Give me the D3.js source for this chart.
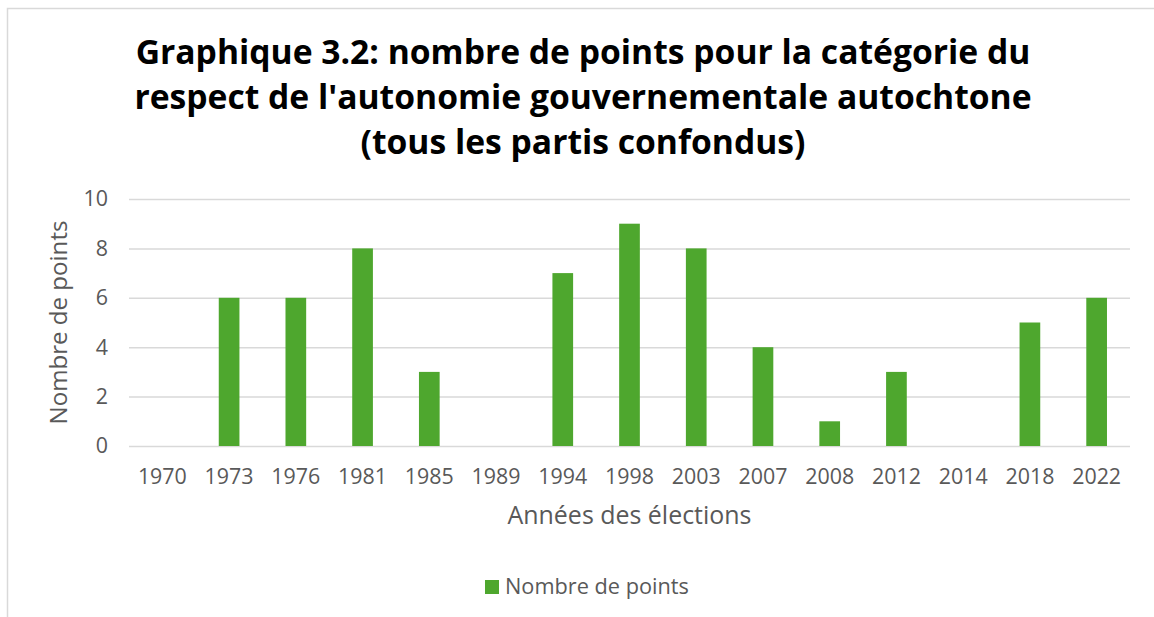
<!DOCTYPE html>
<html>
<head>
<meta charset="utf-8">
<script src="https://cdn.jsdelivr.net/npm/d3@7"></script>
<style>
  body { margin: 0; background: #fff; }
  svg { display: block; }
</style>
</head>
<body>
<div id="chart"></div>
<script>
let years = ["1970", "1973", "1976", "1981", "1985", "1989", "1994", "1998",
  "2003", "2007", "2008", "2012", "2014", "2018", "2022"];
let points = [0, 6, 6, 8, 3, 0, 7, 9, 8, 4, 1, 3, 0, 5, 6];
let yTicks = [0, 2, 4, 6, 8, 10];
let titleLines = [
  "Graphique 3.2: nombre de points pour la catégorie du",
  "respect de l'autonomie gouvernementale autochtone",
  "(tous les partis confondus)"
];

let width = 1154,
  height = 617,
  plotLeft = 129,
  plotRight = 1130,
  plotTop = 199,
  plotBottom = 446;

let green = "#4ea72e",
  textGrey = "#595959",
  font = "Open Sans, Liberation Sans, sans-serif";

let svg = d3.select("#chart")
  .append("svg")
  .attr("width", width)
  .attr("height", height);

// scale a text's font size so it spans the width seen in the picture
function fitWidth(sel, target) {
  sel.each(function () {
    let size = +this.getAttribute("font-size");
    let w = this.getComputedTextLength();
    this.setAttribute("font-size", (size * target / w).toFixed(2));
  });
}

// chart frame
svg.append("rect")
  .attr("x", 7.5)
  .attr("y", 8.5)
  .attr("width", width)
  .attr("height", height)
  .attr("fill", "none")
  .attr("stroke", "#d9d9d9")
  .attr("stroke-width", 1.5);

let titles = svg.selectAll(".title")
  .data(titleLines)
  .enter()
  .append("text")
  .attr("class", "title")
  .attr("x", 583)
  .attr("y", (d, i) => 64 + i * 45)
  .attr("text-anchor", "middle")
  .attr("font-family", font)
  .attr("font-weight", "bold")
  .attr("font-size", 30)
  .attr("fill", "#000")
  .text((d) => d);
let titleSize = 30 * 895 / titles.node().getComputedTextLength();
titles.attr("font-size", titleSize.toFixed(2));

let xScale = d3.scaleBand()
  .domain(years)
  .range([plotLeft, plotRight])
  .paddingInner(0.69)
  .paddingOuter(0.345);

let yScale = d3.scaleLinear()
  .domain([0, 10])
  .range([plotBottom, plotTop]);

// gridlines
let yAxis = d3.axisLeft(yScale)
  .tickValues(yTicks)
  .tickSize(-(plotRight - plotLeft))
  .tickPadding(21)
  .tickFormat(d3.format("d"));

let gy = svg.append("g")
  .attr("transform", "translate(" + plotLeft + ",0)")
  .call(yAxis);
gy.select(".domain").remove();
gy.selectAll("line").attr("stroke", "#d9d9d9").attr("stroke-width", 1.5);

let xAxis = d3.axisBottom(xScale).tickSize(0).tickPadding(23);
let gx = svg.append("g")
  .attr("transform", "translate(0," + plotBottom + ")")
  .call(xAxis);
gx.select(".domain").remove();
gx.selectAll("text")
  .attr("fill", textGrey)
  .attr("font-family", font)
  .attr("font-size", 18);
let tickSize = 18 * 49 / gx.select("text").node().getComputedTextLength();
gx.selectAll("text").attr("font-size", tickSize.toFixed(2));
gy.selectAll("text")
  .attr("fill", textGrey)
  .attr("font-family", font)
  .attr("font-size", tickSize.toFixed(2));

svg.selectAll(".bar")
  .data(points)
  .enter()
  .append("rect")
  .attr("class", "bar")
  .attr("x", (d, i) => xScale(years[i]))
  .attr("y", (d) => yScale(d))
  .attr("width", xScale.bandwidth())
  .attr("height", (d) => yScale(0) - yScale(d))
  .attr("fill", green);

svg.append("text")
  .attr("x", (plotLeft + plotRight) / 2)
  .attr("y", 524)
  .attr("text-anchor", "middle")
  .attr("font-family", font)
  .attr("font-size", 20)
  .attr("fill", textGrey)
  .text("Années des élections")
  .call(fitWidth, 244);

svg.append("text")
  .attr("transform", "translate(67," + (plotTop + plotBottom) / 2 + ") rotate(-90)")
  .attr("text-anchor", "middle")
  .attr("font-family", font)
  .attr("font-size", 20)
  .attr("fill", textGrey)
  .text("Nombre de points")
  .call(fitWidth, 204);

// legend
let legend = svg.append("g").attr("transform", "translate(485,580)");
legend.append("rect")
  .attr("width", 14)
  .attr("height", 14)
  .attr("fill", green);
legend.append("text")
  .attr("x", 20)
  .attr("y", 14)
  .attr("font-family", font)
  .attr("font-size", 19)
  .attr("fill", textGrey)
  .text("Nombre de points")
  .call(fitWidth, 184);
</script>
</body>
</html>
